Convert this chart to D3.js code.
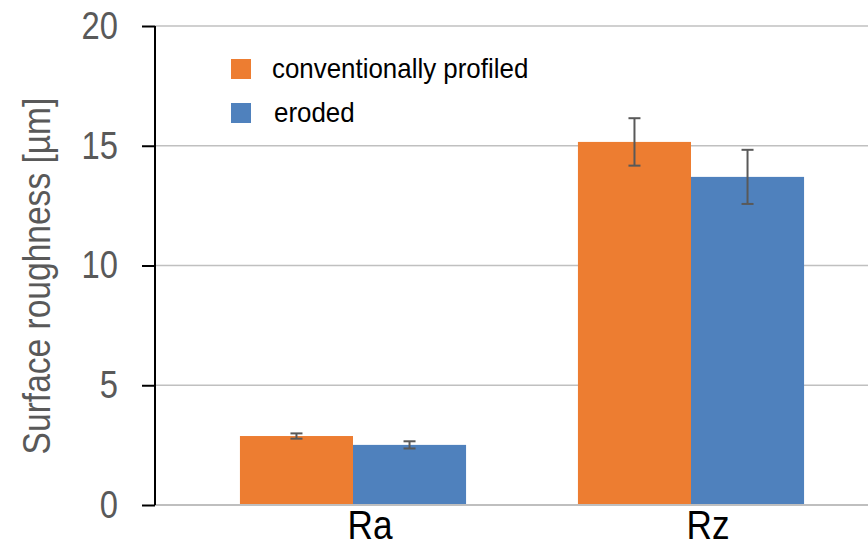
<!DOCTYPE html>
<html>
<head>
<meta charset="utf-8">
<script src="https://cdn.jsdelivr.net/npm/d3@7"></script>
<style>
  html, body { margin: 0; padding: 0; background: #fff; }
  svg { display: block; font-family: "Liberation Sans", Arial, sans-serif; }
</style>
</head>
<body>
<svg id="chart" width="868" height="545"></svg>
<script>
const categories = ["Ra", "Rz"];
const seriesNames = ["conventionally profiled", "eroded"];
const conventionalValues = [2.88, 15.16];
const conventionalErrors = [0.11, 0.99];
const erodedValues = [2.51, 13.7];
const erodedErrors = [0.15, 1.13];
const yTicks = [0, 5, 10, 15, 20];
const colors = ["#ED7D31", "#4F81BD"];

const svg = d3.select("#chart");
const plotLeft = 155, plotRight = 868, plotTop = 26, plotBottom = 505;

// emulate a condensed (narrow) face by compressing the rendered glyphs horizontally
function narrow(sel, factor) {
  sel.each(function () {
    const len = this.getComputedTextLength();
    d3.select(this).attr("textLength", len * factor).attr("lengthAdjust", "spacingAndGlyphs");
  });
}

const y = d3.scaleLinear().domain([0, 20]).range([plotBottom, plotTop]);
const x0 = d3.scaleBand().domain(categories).range([184, 860]).paddingInner(0.331).paddingOuter(0.1655);
const x1 = d3.scaleBand().domain(seriesNames).range([0, x0.bandwidth()]);

// gridlines
svg.append("g")
  .selectAll("line")
  .data(yTicks.filter(d => d > 0))
  .join("line")
  .attr("x1", plotLeft).attr("x2", plotRight)
  .attr("y1", d => y(d)).attr("y2", d => y(d))
  .attr("stroke", "#c0c0c0").attr("stroke-width", 1.5);

const data = categories.map((c, i) => ({
  cat: c,
  items: [
    { name: seriesNames[0], value: conventionalValues[i], err: conventionalErrors[i], color: colors[0] },
    { name: seriesNames[1], value: erodedValues[i], err: erodedErrors[i], color: colors[1] }
  ]
}));

const groups = svg.append("g").selectAll("g")
  .data(data).join("g")
  .attr("transform", d => `translate(${x0(d.cat)},0)`);

groups.selectAll("rect")
  .data(d => d.items).join("rect")
  .attr("x", d => x1(d.name))
  .attr("width", x1.bandwidth())
  .attr("y", d => y(d.value))
  .attr("height", d => y(0) - y(d.value))
  .attr("fill", d => d.color);

// x axis line
svg.append("line")
  .attr("x1", plotLeft).attr("x2", plotRight)
  .attr("y1", y(0)).attr("y2", y(0))
  .attr("stroke", "#bfbfbf").attr("stroke-width", 2);

// error bars
const eb = groups.selectAll("g.err")
  .data(d => d.items).join("g").attr("class", "err")
  .attr("transform", d => `translate(${x1(d.name) + x1.bandwidth() / 2},0)`);
eb.append("line")
  .attr("x1", 0).attr("x2", 0)
  .attr("y1", d => y(d.value + d.err)).attr("y2", d => y(d.value - d.err))
  .attr("stroke", "#595959").attr("stroke-width", 2);
eb.append("line")
  .attr("x1", -6).attr("x2", 6)
  .attr("y1", d => y(d.value + d.err)).attr("y2", d => y(d.value + d.err))
  .attr("stroke", "#595959").attr("stroke-width", 2);
eb.append("line")
  .attr("x1", -6).attr("x2", 6)
  .attr("y1", d => y(d.value - d.err)).attr("y2", d => y(d.value - d.err))
  .attr("stroke", "#595959").attr("stroke-width", 2);

// y axis
const yAxis = svg.append("g")
  .attr("transform", `translate(${plotLeft},0)`)
  .call(d3.axisLeft(y).tickValues(yTicks).tickSize(13).tickPadding(24).tickFormat(d3.format("d")));
yAxis.select(".domain").attr("stroke", "#000").attr("stroke-width", 2).attr("d", `M0,${plotTop}V${plotBottom}`);
yAxis.selectAll(".tick line").attr("stroke", "#000").attr("stroke-width", 2);
yAxis.selectAll(".tick text")
  .attr("fill", "#595959")
  .style("font-size", "39px")
  .style("font-family", '"Liberation Sans", Arial, sans-serif')
  .call(narrow, 0.84);

// x axis labels
const xAxis = svg.append("g")
  .attr("transform", `translate(0,${plotBottom})`)
  .call(d3.axisBottom(x0).tickSize(0).tickPadding(0));
xAxis.select(".domain").remove();
xAxis.selectAll(".tick text")
  .attr("fill", "#000")
  .attr("dx", 17)
  .attr("dy", 0)
  .attr("y", 34)
  .style("font-size", "40px")
  .style("font-family", '"Liberation Sans", Arial, sans-serif')
  .call(narrow, 0.88);

// y axis title
svg.append("text")
  .attr("transform", `translate(50,276) rotate(-90)`)
  .attr("text-anchor", "middle")
  .attr("fill", "#595959")
  .style("font-size", "39px")
  .text("Surface roughness [µm]")
  .call(narrow, 0.86);

// legend
const legend = svg.append("g").selectAll("g")
  .data(seriesNames).join("g")
  .attr("transform", (d, i) => `translate(231,${59 + i * 44})`);
legend.append("rect")
  .attr("width", 20).attr("height", 20)
  .attr("fill", (d, i) => colors[i]);
legend.append("text")
  .attr("x", (d, i) => i === 0 ? 41 : 43)
  .attr("y", 19)
  .attr("fill", "#000")
  .style("font-size", "28px")
  .text(d => d)
  .call(narrow, 0.925);
</script>
</body>
</html>
